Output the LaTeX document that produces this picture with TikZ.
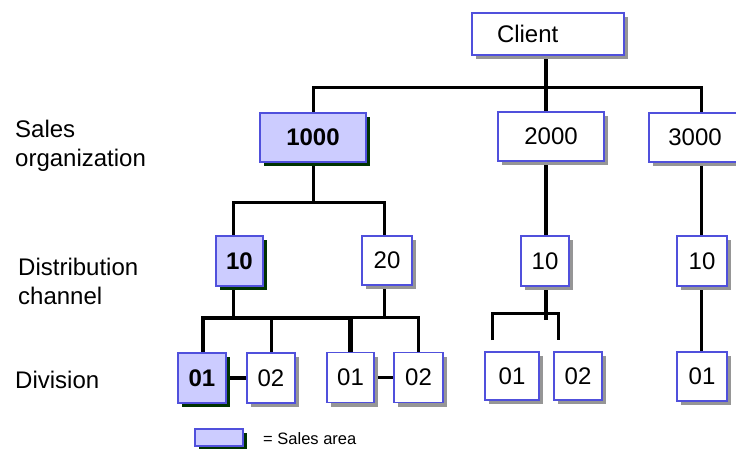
\documentclass[tikz,border=0pt]{standalone}
\usepackage{fontspec}
\setmainfont{Liberation Sans}
\usetikzlibrary{positioning, shadows, backgrounds}
\definecolor{boxblue}{RGB}{80,80,220}
\definecolor{areafill}{RGB}{204,204,255}
\definecolor{areashadow}{RGB}{0,51,0}
\definecolor{plainshadow}{RGB}{150,150,150}

\tikzset{
    basebox/.style={draw=boxblue, line width=1.2pt, minimum height=49pt, inner sep=0pt,
        font=\fontsize{24}{29}\selectfont},
    orgbox/.style={basebox, fill=white,
        drop shadow={shadow xshift=4pt, shadow yshift=-4pt, fill=plainshadow, opacity=1}},
    areabox/.style={basebox, fill=areafill, font=\fontsize{24}{29}\selectfont\bfseries,
        drop shadow={shadow xshift=4pt, shadow yshift=-4pt, fill=areashadow, opacity=1}},
    levellabel/.style={anchor=north west, inner sep=0pt, align=left,
        font=\fontsize{24}{29}\selectfont},
    treeline/.style={line width=3pt},
    heavyline/.style={line width=4.5pt}
}

\begin{document}
\begin{tikzpicture}[x=1pt, y=-1pt]
    \useasboundingbox (0,0) rectangle (736,448);

    % level names
    \node[levellabel] (lblorg) at (15,119.5) {Sales\\organization};
    \node[levellabel] (lblchan) at (18,257.5) {Distribution\\channel};
    \node[levellabel] (lbldiv) at (15,371) {Division};

    % client and sales organizations
    \node[orgbox, minimum width=152pt, minimum height=42pt, text width=102pt,
        inner xsep=25pt, align=left] (client) at (548,34) {Client};
    \node[areabox, minimum width=106pt] (org1000) at (313,137.5) {1000};
    \node[orgbox, minimum width=106pt] (org2000) at (551,136.5) {2000};
    \node[orgbox, minimum width=92pt] (org3000) at (695,137.5) {3000};

    % distribution channels
    \node[areabox, minimum width=47pt, minimum height=50pt] (ch10a) at (239.5,261) {10};
    \node[orgbox, minimum width=50pt] (ch20) at (387,260.5) {20};
    \node[orgbox, minimum width=48pt, minimum height=50pt] (ch10b) at (545,261) {10};
    \node[orgbox, minimum width=50pt, minimum height=50pt] (ch10c) at (702,261) {10};

    % divisions
    \node[areabox, minimum width=48pt, minimum height=50pt] (dv01a) at (202,378) {01};
    \node[orgbox, minimum width=48pt, minimum height=50pt] (dv02a) at (271,378) {02};
    \node[orgbox, minimum width=47pt, minimum height=50pt] (dv01b) at (350.5,377.5) {01};
    \node[orgbox, minimum width=49pt, minimum height=50pt] (dv02b) at (418.5,377.5) {02};
    \node[orgbox, minimum width=54pt, minimum height=48pt] (dv01c) at (512,376) {01};
    \node[orgbox, minimum width=48pt, minimum height=48pt] (dv02c) at (578,376) {02};
    \node[orgbox, minimum width=50pt] (dv01d) at (702,376.5) {01};

    % legend
    \node[areabox, minimum width=48pt, minimum height=17pt] (key) at (219,437.5) {};
    \node[anchor=west, inner sep=0pt, font=\fontsize{16.5}{20}\selectfont] (keytext)
        at (263,439) {= Sales area};

    % junctions
    \coordinate (jclient) at (546,87);
    \coordinate (j3000) at (701,87);
    \coordinate (j1000l) at (233,202);
    \coordinate (j1000r) at (384,202);
    \coordinate (j10a) at (203,318);
    \coordinate (j20) at (418,317);
    \coordinate (j10bmid) at (546,320);
    \coordinate (e10bl) at (492,340);
    \coordinate (e10br) at (558,340);
    \coordinate (j10br) at (558,313);

    \begin{scope}[on background layer]
        % client to sales organizations
        \draw[heavyline] (client.south -| jclient) -- (jclient);
        \draw[treeline] (org1000.north) |- (j3000) -- (j3000 |- org3000.north);
        \draw[heavyline] (jclient) -- (jclient |- org2000.north);

        % sales organizations to channels
        \draw[treeline] (org1000.south) -- (org1000.south |- j1000l);
        \draw[treeline] (j1000l |- ch10a.north) -- (j1000l) -- (j1000r) -- (j1000r |- ch20.north);
        \draw[heavyline] (jclient |- org2000.south) -- (jclient |- ch10b.north);
        \draw[treeline] (j3000 |- org3000.south) -- (j3000 |- ch10c.north);

        % channels to divisions
        \draw[treeline] (ch10a.south -| j1000l) -- (j1000l |- j10a);
        \draw[heavyline] (dv01a.north -| j10a) |- (j10a -| dv01b.north);
        \draw[treeline] (dv02a.north) -- (dv02a.north |- j10a);
        \draw[treeline] (ch20.south -| j1000r) -- (j1000r |- j20);
        \draw[heavyline] (dv01b.north) -- (dv01b.north |- j20);
        \draw[treeline] (dv01b.north |- j20) -| (dv02b.north);
        \draw[heavyline] (jclient |- ch10b.south) -- (j10bmid);
        \draw[treeline] (e10bl) |- (j10br) -- (e10br);
        \draw[treeline] (j3000 |- ch10c.south) -- (j3000 |- dv01d.north);

        % links between divisions
        \draw[heavyline] (dv01a) -- (dv02a);
        \draw[treeline] (dv01b) -- (dv02b);
    \end{scope}
\end{tikzpicture}
\end{document}
